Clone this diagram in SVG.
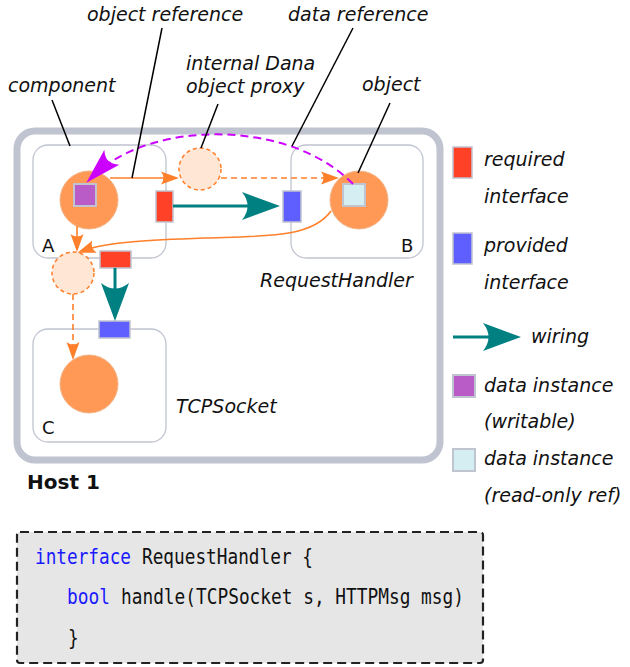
<svg xmlns="http://www.w3.org/2000/svg" width="630" height="667" viewBox="0 0 630 667">
<style>
.lbl{font-family:"DejaVu Sans","Verdana",sans-serif;font-style:italic;font-size:19px;fill:#111}
.let{font-family:"DejaVu Sans",sans-serif;font-size:18px;fill:#111}
.comp{fill:#fff;stroke:#c0c4d0;stroke-width:1.3}
.obj{fill:#ff9955;stroke:#f2b48a;stroke-width:1}
.proxy{fill:#ffe6d5;stroke:#ff7f2a;stroke-width:1.5;stroke-dasharray:4 3}
.req{fill:#ff4128;stroke:#c0c4d0;stroke-width:1.5}
.prov{fill:#5f5fff;stroke:#c0c4d0;stroke-width:1.5}
.dw{fill:#b95cc8;stroke:#c0c4d0;stroke-width:2}
.dr{fill:#d5eef2;stroke:#c0c4d0;stroke-width:2}
.lead{stroke:#000;stroke-width:1.5;fill:none}
.or{stroke:#ff7f2a;stroke-width:1.6;fill:none}
.ord{stroke:#ff7f2a;stroke-width:1.6;fill:none;stroke-dasharray:6 4}
.teal{stroke:#008080;stroke-width:3;fill:none}
.mag{stroke:#cc00ff;stroke-width:2;fill:none;stroke-dasharray:8 5}
.code{font-family:"DejaVu Sans Mono","Liberation Mono",monospace;font-size:20.5px;fill:#111}
.kw{fill:#1a1aff}
</style>
<defs>
<marker id="ao" viewBox="-40 -20 45 40" refX="-8" refY="0" markerWidth="45" markerHeight="40" markerUnits="userSpaceOnUse" orient="auto">
<path d="M0,0 L-18,-6.5 Q-13,0 -18,6.5 Z" fill="#ff7f2a"/>
</marker>
<marker id="at" viewBox="-45 -20 50 40" refX="-14" refY="0" markerWidth="50" markerHeight="40" markerUnits="userSpaceOnUse" orient="auto">
<path d="M0,0 L-38,-14 Q-27,0 -38,14 Z" fill="#008080"/>
</marker>
<marker id="am" viewBox="-45 -20 50 40" refX="-8" refY="0" markerWidth="50" markerHeight="40" markerUnits="userSpaceOnUse" orient="auto">
<path d="M0,0 L-36,-10.5 Q-26,0 -36,10.5 Z" fill="#cc00ff"/>
</marker>
</defs>

<g id="host">
<rect x="17" y="131" width="423" height="329" rx="18" fill="#fff" stroke="#c0c4d0" stroke-width="7"/>
<text x="27" y="489" font-family="DejaVu Sans,sans-serif" font-weight="bold" font-size="20" fill="#111">Host 1</text>
</g>

<g id="compA">
<rect class="comp" x="33" y="145" width="133" height="113" rx="15"/>
<text class="let" x="42" y="252">A</text>
<circle class="obj" cx="89" cy="200" r="29"/>
<rect class="dw" x="74" y="184" width="22" height="22"/>
<rect class="req" x="156" y="191" width="17" height="31"/>
<rect class="req" x="100" y="251" width="31" height="17"/>
</g>

<g id="compB">
<rect class="comp" x="291" y="145" width="132" height="113" rx="15"/>
<text class="let" x="401" y="252">B</text>
<circle class="obj" cx="359" cy="200" r="29"/>
<rect class="dr" x="343" y="184" width="22" height="22"/>
<rect class="prov" x="283" y="191" width="18" height="31"/>
<text class="lbl" x="260" y="287">RequestHandler</text>
</g>

<g id="compC">
<rect class="comp" x="33" y="329" width="133" height="113" rx="15"/>
<text class="let" x="42" y="434">C</text>
<circle class="obj" cx="89" cy="384" r="29"/>
<rect class="prov" x="99" y="321" width="31" height="17"/>
<text class="lbl" x="176" y="413">TCPSocket</text>
</g>

<g id="proxy1"><circle class="proxy" cx="200" cy="169" r="21"/></g>
<g id="proxy2"><circle class="proxy" cx="73" cy="273" r="21"/></g>

<g id="connectors">
<line class="or" x1="110" y1="178" x2="171" y2="178" marker-end="url(#ao)"/>
<line class="ord" x1="221" y1="178" x2="331" y2="178" marker-end="url(#ao)"/>
<line class="or" x1="77" y1="226" x2="77" y2="244" marker-end="url(#ao)"/>
<path class="or" d="M331,211 C312,238 265,236 205,238 C150,240 108,242 85,250" marker-end="url(#ao)"/>
<line class="ord" x1="73" y1="294" x2="73" y2="352" marker-end="url(#ao)"/>
<line class="teal" x1="173" y1="206" x2="266" y2="206" marker-end="url(#at)"/>
<line class="teal" x1="115" y1="268" x2="115" y2="307" marker-end="url(#at)"/>
<path class="mag" d="M353,184 C290,119 150,119 92,177" marker-end="url(#am)"/>
</g>

<g id="leaders">
<line class="lead" x1="162" y1="28" x2="132" y2="178"/>
<line class="lead" x1="52" y1="100" x2="70" y2="146"/>
<line class="lead" x1="218" y1="104" x2="201" y2="148"/>
<line class="lead" x1="353" y1="28" x2="292" y2="146"/>
<line class="lead" x1="390" y1="103" x2="358" y2="173"/>
</g>

<g id="labels">
<text class="lbl" x="87" y="21">object reference</text>
<text class="lbl" x="288" y="21">data reference</text>
<text class="lbl" x="8" y="92">component</text>
<text class="lbl" x="186" y="70">internal Dana</text>
<text class="lbl" x="186" y="93">object proxy</text>
<text class="lbl" x="362" y="91">object</text>
</g>

<g id="legend">
<rect class="req" x="453" y="147" width="19" height="31"/>
<text class="lbl" x="484" y="166">required</text>
<text class="lbl" x="484" y="203">interface</text>
<rect class="prov" x="453" y="233" width="19" height="31"/>
<text class="lbl" x="484" y="252">provided</text>
<text class="lbl" x="484" y="289">interface</text>
<line class="teal" x1="453" y1="337" x2="507" y2="337" marker-end="url(#at)"/>
<text class="lbl" x="531" y="343">wiring</text>
<rect class="dw" x="453" y="375" width="22" height="22"/>
<text class="lbl" x="484" y="392">data instance</text>
<text class="lbl" x="484" y="428">(writable)</text>
<rect class="dr" x="453" y="449" width="22" height="22"/>
<text class="lbl" x="484" y="465">data instance</text>
<text class="lbl" x="484" y="502">(read-only ref)</text>
</g>

<g id="codebox">
<rect x="17" y="532" width="466" height="131" rx="3" fill="#e6e6e6" stroke="#222" stroke-width="2.2" stroke-dasharray="9 5"/>
<text class="code kw" x="35" y="564" textLength="96" lengthAdjust="spacingAndGlyphs">interface</text>
<text class="code" x="142" y="564" textLength="171" lengthAdjust="spacingAndGlyphs">RequestHandler {</text>
<text class="code kw" x="67" y="604" textLength="43" lengthAdjust="spacingAndGlyphs">bool</text>
<text class="code" x="121" y="604" textLength="343" lengthAdjust="spacingAndGlyphs">handle(TCPSocket s, HTTPMsg msg)</text>
<text class="code" x="68" y="645" textLength="10.7" lengthAdjust="spacingAndGlyphs">}</text>
</g>
</svg>
